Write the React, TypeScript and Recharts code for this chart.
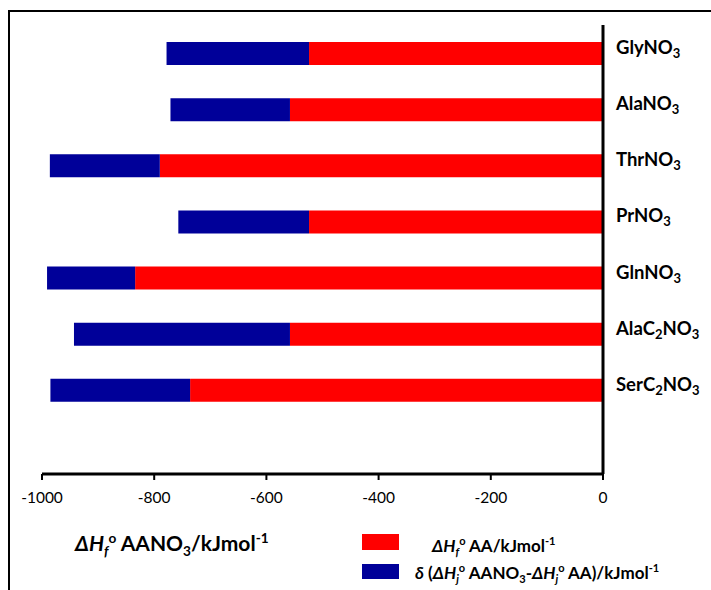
import { Bar, BarChart, XAxis, YAxis } from 'recharts';

const categories = ['GlyNO3', 'AlaNO3', 'ThrNO3', 'PrNO3', 'GlnNO3', 'AlaC2NO3', 'SerC2NO3', ''];
const aaEnthalpy = [-524, -558, -790, -524, -834, -558, -736];
const deltaEnthalpy = [-254, -213, -196, -233, -157, -385, -249];
const xTicks = [-1000, -800, -600, -400, -200, 0];

const chartData = categories.map((name, i) => ({
  name,
  aa: aaEnthalpy[i] ?? null,
  delta: deltaEnthalpy[i] ?? null
}));

const FONT = 'Lato, "DejaVu Sans", sans-serif';

// labels like AlaC2NO3: digits become subscripts
const CategoryTick = (props: any) => {
  const { x, y, payload } = props;
  const parts: string[] = String(payload.value).split(/(\d)/).filter((p: string) => p !== '');
  return (
    <text x={x + 5} y={y} dy={1} textAnchor="start" fontFamily={FONT} fontWeight={700} fontSize={18.5} fill="#000">
      {parts.map((p, i) =>
        /\d/.test(p) ? (
          <tspan key={i} fontSize={13} baselineShift="-30%">
            {p}
          </tspan>
        ) : (
          <tspan key={i}>{p}</tspan>
        )
      )}
    </text>
  );
};

const sub = { fontSize: '0.65em', verticalAlign: 'sub' } as const;
const sup = { fontSize: '0.65em', verticalAlign: 'super' } as const;

const App = () => {
  return (
    <div style={{ position: 'relative', width: 711, height: 590, fontFamily: FONT, background: '#fff' }}>
      <style>{'body{margin:0}'}</style>
      <div style={{ position: 'absolute', left: 8, top: 10, width: 703, height: 580, borderLeft: '2px solid #000', borderTop: '2px solid #000' }} />
      <BarChart
        width={711}
        height={590}
        data={chartData}
        layout="vertical"
        margin={{ top: 25, right: 0, bottom: 86, left: 42 }}
        barSize={23}
        style={{ position: 'absolute', left: 0, top: 0 }}
      >
        <XAxis
          type="number"
          domain={[-1000, 0]}
          ticks={xTicks}
          height={30}
          axisLine={{ stroke: '#000', strokeWidth: 3 }}
          tickLine={{ stroke: '#000', strokeWidth: 2 }}
          tickSize={6}
          tickMargin={12}
          tick={{ fill: '#000', fontSize: 15.5, fontFamily: FONT }}
        />
        <YAxis
          type="category"
          dataKey="name"
          orientation="right"
          width={108}
          axisLine={{ stroke: '#000', strokeWidth: 3 }}
          tickLine={false}
          tick={<CategoryTick />}
          interval={0}
        />
        <Bar dataKey="aa" stackId="h" fill="#ff0000" isAnimationActive={false} />
        <Bar dataKey="delta" stackId="h" fill="#000099" isAnimationActive={false} />
      </BarChart>

      <div style={{ position: 'absolute', left: 75, top: 525, fontSize: 21, fontWeight: 700, whiteSpace: 'nowrap', lineHeight: '26px' }}>
        <i>ΔH</i>
        <i style={sub}>f</i>
        <span style={sup}>o</span> AANO<span style={sub}>3</span>/kJmol<span style={sup}>-1</span>
      </div>

      <div style={{ position: 'absolute', left: 362, top: 534, width: 37, height: 16, background: '#ff0000' }} />
      <div style={{ position: 'absolute', left: 362, top: 564, width: 37, height: 15, background: '#000099' }} />
      <div style={{ position: 'absolute', left: 432, top: 530, fontSize: 17, fontWeight: 700, whiteSpace: 'nowrap', lineHeight: '22px' }}>
        <i>ΔH</i>
        <i style={sub}>f</i>
        <span style={sup}>o</span> AA/kJmol<span style={sup}>-1</span>
      </div>
      <div style={{ position: 'absolute', left: 415, top: 557, fontSize: 17, fontWeight: 700, whiteSpace: 'nowrap', lineHeight: '22px' }}>
        <i>δ</i> (<i>ΔH</i>
        <i style={sub}>j</i>
        <span style={sup}>o</span> AANO<span style={sub}>3</span>-<i>ΔH</i>
        <i style={sub}>j</i>
        <span style={sup}>o</span> AA)/kJmol<span style={sup}>-1</span>
      </div>
    </div>
  );
};

export default App;
